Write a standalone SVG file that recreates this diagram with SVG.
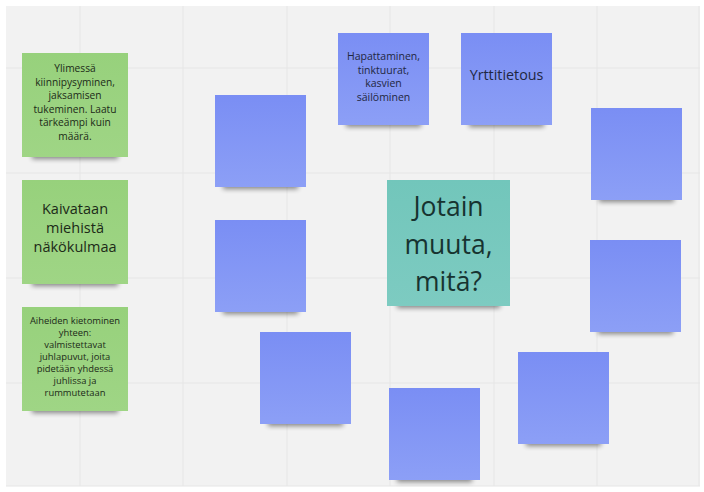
<svg xmlns="http://www.w3.org/2000/svg" width="704" height="492" viewBox="0 0 704 492">
<style>
.grid{stroke:#e6e6e6;stroke-width:1}
.blue{fill:url(#gb)}
.green{fill:url(#gg)}
.teal{fill:url(#gt)}
.sh{fill:#000;opacity:0.45;filter:url(#blur)}
text{font-family:"Open Sans","Noto Sans","DejaVu Sans",sans-serif;text-anchor:middle}
.tb{fill:#1f2742}
.tg{fill:#1c2a18}
.tt{fill:#173330}
</style>
<defs>
<linearGradient id="gb" x1="0" y1="0" x2="0" y2="1"><stop offset="0" stop-color="#7a8ef4"/><stop offset="1" stop-color="#8c9ff6"/></linearGradient>
<linearGradient id="gg" x1="0" y1="0" x2="0" y2="1"><stop offset="0" stop-color="#97d17c"/><stop offset="1" stop-color="#9fd585"/></linearGradient>
<linearGradient id="gt" x1="0" y1="0" x2="0" y2="1"><stop offset="0" stop-color="#72c6bb"/><stop offset="1" stop-color="#7dcbc1"/></linearGradient>
<filter id="blur" x="-20%" y="-100%" width="140%" height="300%"><feGaussianBlur stdDeviation="2.5"/></filter>
</defs>
<rect width="704" height="492" fill="#ffffff"/>
<rect x="6" y="6" width="694" height="480" fill="#f2f2f2"/>
<g id="grid">
<line class="grid" x1="80" y1="6" x2="80" y2="486"/>
<line class="grid" x1="183" y1="6" x2="183" y2="486"/>
<line class="grid" x1="287" y1="6" x2="287" y2="486"/>
<line class="grid" x1="390" y1="6" x2="390" y2="486"/>
<line class="grid" x1="494" y1="6" x2="494" y2="486"/>
<line class="grid" x1="597" y1="6" x2="597" y2="486"/>
<line class="grid" x1="699" y1="6" x2="699" y2="486"/>
<line class="grid" x1="6" y1="68" x2="700" y2="68"/>
<line class="grid" x1="6" y1="173" x2="700" y2="173"/>
<line class="grid" x1="6" y1="278" x2="700" y2="278"/>
<line class="grid" x1="6" y1="383" x2="700" y2="383"/>
<line class="grid" x1="6" y1="486" x2="700" y2="486"/>
</g>
<g id="connectors"></g>

<g id="note-green-1" transform="translate(22,53)">
<rect class="sh" x="10" y="98" width="86" height="8"/>
<rect class="green" width="106" height="104"/>
<text class="tg" font-size="10.2"><tspan x="53" y="19">Ylimessä</tspan><tspan x="53" y="32.5">kiinnipysyminen,</tspan><tspan x="53" y="46">jaksamisen</tspan><tspan x="53" y="59.5">tukeminen. Laatu</tspan><tspan x="53" y="73">tärkeämpi kuin</tspan><tspan x="53" y="86.5">määrä.</tspan></text>
</g>

<g id="note-green-2" transform="translate(22,180)">
<rect class="sh" x="10" y="98" width="86" height="8"/>
<rect class="green" width="106" height="104"/>
<text class="tg" font-size="14.5"><tspan x="53" y="34">Kaivataan</tspan><tspan x="53" y="53">miehistä</tspan><tspan x="53" y="72">näkökulmaa</tspan></text>
</g>

<g id="note-green-3" transform="translate(22,307)">
<rect class="sh" x="10" y="98" width="86" height="8"/>
<rect class="green" width="106" height="104"/>
<text class="tg" font-size="9.4"><tspan x="53" y="17">Aiheiden kietominen</tspan><tspan x="53" y="29">yhteen:</tspan><tspan x="53" y="40.5">valmistettavat</tspan><tspan x="53" y="52.5">juhlapuvut, joita</tspan><tspan x="53" y="64.5">pidetään yhdessä</tspan><tspan x="53" y="76.5">juhlissa ja</tspan><tspan x="53" y="88.5">rummutetaan</tspan></text>
</g>

<g id="note-hapattaminen" transform="translate(338,33)">
<rect class="sh" x="8" y="86" width="75" height="8"/>
<rect class="blue" width="91" height="92"/>
<text class="tb" font-size="10.5"><tspan x="45.5" y="27">Hapattaminen,</tspan><tspan x="45.5" y="40.5">tinktuurat,</tspan><tspan x="45.5" y="54">kasvien</tspan><tspan x="45.5" y="67.5">säilöminen</tspan></text>
</g>

<g id="note-yrttitietous" transform="translate(461,33)">
<rect class="sh" x="8" y="86" width="75" height="8"/>
<rect class="blue" width="91" height="92"/>
<text class="tb" font-size="14.3" x="45.5" y="47">Yrttitietous</text>
</g>

<g id="note-blue-1" transform="translate(215,95)">
<rect class="sh" x="8" y="86" width="75" height="8"/>
<rect class="blue" width="91" height="92"/>
</g>

<g id="note-blue-2" transform="translate(591,108)">
<rect class="sh" x="8" y="86" width="75" height="8"/>
<rect class="blue" width="91" height="92"/>
</g>

<g id="note-blue-3" transform="translate(215,220)">
<rect class="sh" x="8" y="86" width="75" height="8"/>
<rect class="blue" width="91" height="92"/>
</g>

<g id="note-blue-4" transform="translate(590,240)">
<rect class="sh" x="8" y="86" width="75" height="8"/>
<rect class="blue" width="91" height="92"/>
</g>

<g id="note-blue-5" transform="translate(260,332)">
<rect class="sh" x="8" y="86" width="75" height="8"/>
<rect class="blue" width="91" height="92"/>
</g>

<g id="note-blue-6" transform="translate(518,352)">
<rect class="sh" x="8" y="86" width="75" height="8"/>
<rect class="blue" width="91" height="92"/>
</g>

<g id="note-blue-7" transform="translate(389,388)">
<rect class="sh" x="8" y="86" width="75" height="8"/>
<rect class="blue" width="91" height="92"/>
</g>

<g id="note-center" transform="translate(387,180)">
<rect class="sh" x="10" y="119" width="103" height="9"/>
<rect class="teal" width="123" height="126"/>
<text class="tt" font-size="26.5"><tspan x="61.5" y="36">Jotain</tspan><tspan x="61.5" y="74">muuta,</tspan><tspan x="61.5" y="111">mitä?</tspan></text>
</g>
</svg>
